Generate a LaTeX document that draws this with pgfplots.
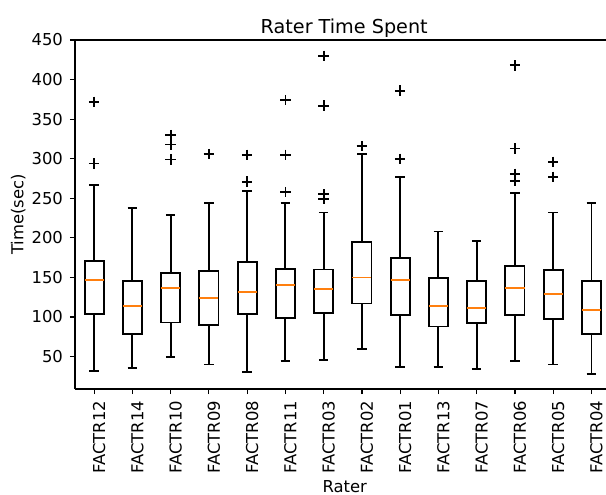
\documentclass[border=0pt]{standalone}
\usepackage{fontspec}
\setmainfont{DejaVu Sans}
\usepackage{pgfplots}
\usepackage{pgfplotstable}
\pgfplotsset{compat=1.18}
\definecolor{mplorange}{RGB}{255,127,14}

% outlier points: box position, value
\pgfplotstableread{
pos val
1 372
1 294
3 330
3 318
3 299
4 306
5 305
5 271
6 374
6 305
6 258
7 430
7 367
7 255
7 249
8 316
9 386
9 300
12 418
12 313
12 281
12 272
13 296
13 277
}\outliers

\pgfplotsset{
  boxline/.style={black, line width=0.95pt, mark=none, line join=miter},
  medline/.style={mplorange, line width=0.9pt, mark=none},
}

% \raterbox{position}{lower whisker}{Q1}{median}{Q3}{upper whisker}
\newcommand\raterbox[6]{%
  \pgfmathsetmacro\xl{#1-0.25}%
  \pgfmathsetmacro\xr{#1+0.25}%
  \pgfmathsetmacro\cl{#1-0.125}%
  \pgfmathsetmacro\cr{#1+0.125}%
  \edef\temp{%
    \noexpand\addplot[boxline] coordinates {(#1,#2) (#1,#3)};
    \noexpand\addplot[boxline] coordinates {(#1,#5) (#1,#6)};
    \noexpand\addplot[boxline] coordinates {(\cl,#2) (\cr,#2)};
    \noexpand\addplot[boxline] coordinates {(\cl,#6) (\cr,#6)};
    \noexpand\addplot[boxline] coordinates {(\xl,#3) (\xr,#3) (\xr,#5) (\xl,#5) (\xl,#3) (\xr,#3)};
    \noexpand\addplot[medline] coordinates {(\xl,#4) (\xr,#4)};
  }\temp
}

\begin{document}
\begin{tikzpicture}
\begin{axis}[
  scale only axis,
  width=265.5pt, height=174.5pt,
  xmin=0.5, xmax=14.38,
  ymin=9, ymax=450,
  axis x line*=box, axis y line*=left,
  axis line style={-, line width=0.9pt},
  every outer x axis line/.append style={-},
  every outer y axis line/.append style={-},
  tick pos=left, tick align=outside,
  major tick length=2.5pt,
  tick style={black, line width=0.6pt},
  xtick={1,...,14},
  xticklabels={FACTR12,FACTR14,FACTR10,FACTR09,FACTR08,FACTR11,FACTR03,FACTR02,FACTR01,FACTR13,FACTR07,FACTR06,FACTR05,FACTR04},
  x tick label style={rotate=90, anchor=east, inner ysep=0.5pt, yshift=-2.5pt},
  ytick={50,100,...,450},
  ticklabel style={font=\fontsize{8.2}{9}\selectfont},
  /pgf/number format/assume math mode=true,
  title={Rater Time Spent},
  title style={at={(axis description cs:0.507,1)}, anchor=center, yshift=0pt, font=\fontsize{9.6}{11}\selectfont},
  xlabel={Rater},
  xlabel style={at={(axis description cs:0.508,-0.279)}, anchor=center, font=\fontsize{8.2}{9}\selectfont},
  ylabel={Time(sec)},
  ylabel style={at={(axis description cs:-0.107,0.5)}, anchor=center, font=\fontsize{8.2}{9}\selectfont},
]
\coordinate (sw) at (rel axis cs:0,0);

\raterbox{1}{32}{104}{147}{171}{267}   % FACTR12
\raterbox{2}{35}{79}{114}{146}{238}    % FACTR14
\raterbox{3}{50}{93}{137}{156}{229}    % FACTR10
\raterbox{4}{40}{90}{124}{158}{244}    % FACTR09
\raterbox{5}{31}{104}{132}{169}{259}   % FACTR08
\raterbox{6}{44}{99}{140}{161}{244}    % FACTR11
\raterbox{7}{46}{105}{135}{160}{232}   % FACTR03
\raterbox{8}{59}{117}{150}{195}{306}   % FACTR02
\raterbox{9}{37}{102}{147}{175}{277}   % FACTR01
\raterbox{10}{37}{88}{114}{149}{208}   % FACTR13
\raterbox{11}{34}{92}{111}{146}{196}   % FACTR07
\raterbox{12}{44}{102}{137}{164}{257}  % FACTR06
\raterbox{13}{40}{98}{129}{159}{232}   % FACTR05
\raterbox{14}{28}{78}{109}{146}{244}   % FACTR04

\addplot[only marks, mark=+, mark size=2.6pt, mark options={black, line width=0.9pt}]
  table[x=pos, y=val] {\outliers};
\end{axis}
\pgfresetboundingbox
\path[use as bounding box] ([shift={(-37.5pt,-52.5pt)}]sw) rectangle ([shift={(265.5pt,194.5pt)}]sw);
\end{tikzpicture}
\end{document}
